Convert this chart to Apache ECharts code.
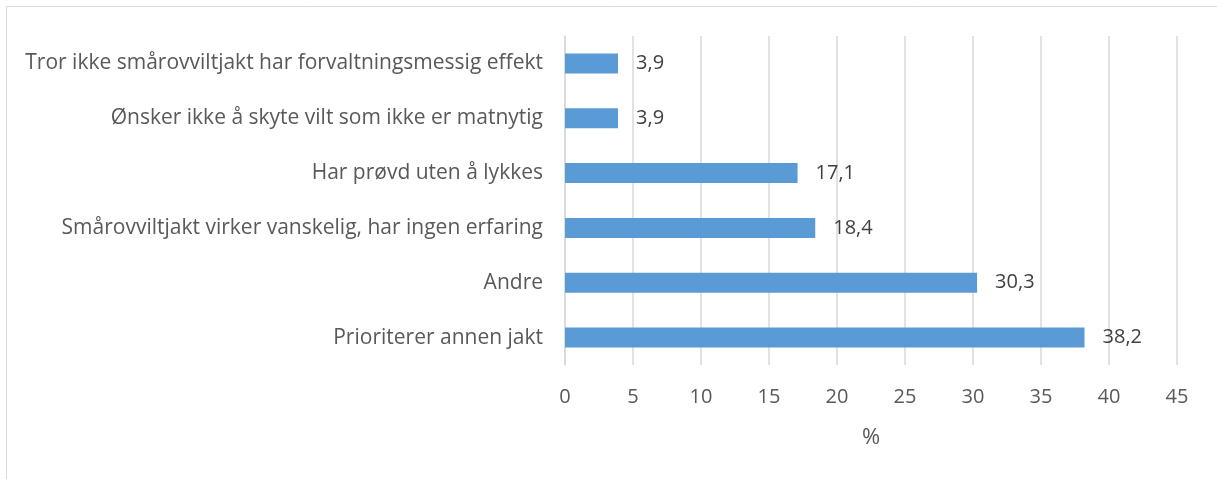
<!DOCTYPE html>
<html>
<head>
<meta charset="utf-8">
<script src="https://cdn.jsdelivr.net/npm/echarts@6/dist/echarts.min.js"></script>
<style>
  html, body { margin: 0; padding: 0; background: #fff; }
  #chart-container { width: 1217px; height: 479px; }
</style>
</head>
<body>
<div id="chart-container"></div>
<script>
var dom = document.getElementById('chart-container');
var myChart = echarts.init(dom, null, { renderer: 'canvas' });

// kategorier, nederst først (y-aksen tegnes nedenfra)
const categories = [
    'Prioriterer annen jakt',
    'Andre',
    'Smårovviltjakt virker vanskelig, har ingen erfaring',
    'Har prøvd uten å lykkes',
    'Ønsker ikke å skyte vilt som ikke er matnytig',
    'Tror ikke smårovviltjakt har forvaltningsmessig effekt'
];
const values = [38.2, 30.3, 18.4, 17.1, 3.9, 3.9];

const textColor = '#595959';
const fontName = 'Open Sans';

var option = {
    animation: false,
    backgroundColor: '#fff',
    graphic: [{
        type: 'rect',
        shape: { x: 6.5, y: 6.5, width: 1400, height: 600 },
        style: { fill: 'none', stroke: '#d9d9d9', lineWidth: 1 },
        silent: true
    }],
    grid: {
        left: 565,
        right: 40,
        top: 36,
        bottom: 114
    },
    xAxis: {
        type: 'value',
        min: 0,
        max: 45,
        interval: 5,
        name: '%',
        nameLocation: 'middle',
        nameGap: 62,
        nameTextStyle: { color: textColor, fontSize: 22, fontFamily: fontName },
        axisLine: { show: false },
        axisTick: { show: false },
        axisLabel: { color: textColor, fontSize: 20, fontFamily: fontName, margin: 22 },
        splitLine: { lineStyle: { color: '#d9d9d9', width: 1.5 } }
    },
    yAxis: {
        type: 'category',
        data: categories,
        axisLine: { lineStyle: { color: '#d9d9d9', width: 1.5 } },
        axisTick: { show: false },
        axisLabel: { color: textColor, fontSize: 21, fontFamily: fontName, margin: 22 }
    },
    series: [{
        type: 'bar',
        data: values,
        barWidth: 20,
        itemStyle: { color: '#5b9bd5' },
        label: {
            show: true,
            position: 'right',
            distance: 18,
            color: '#404040',
            fontSize: 20,
            fontFamily: fontName,
            formatter: function (p) {
                return p.value.toFixed(1).replace('.', ',');
            }
        }
    }]
};

myChart.setOption(option);
window.addEventListener('resize', myChart.resize);
</script>
</body>
</html>
